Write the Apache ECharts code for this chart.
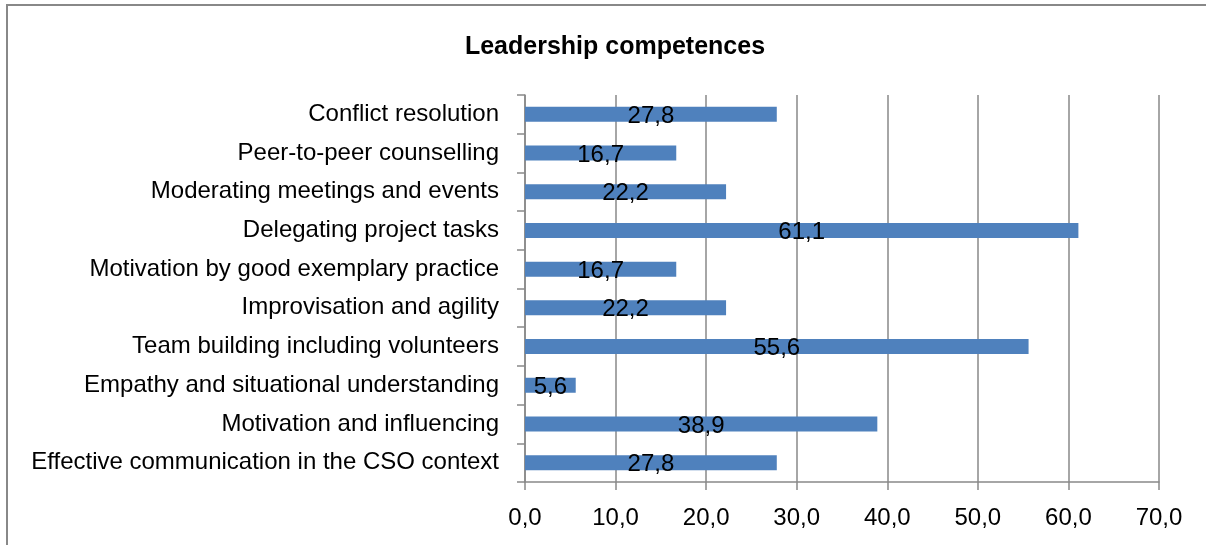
<!DOCTYPE html>
<html>
<head>
<meta charset="utf-8">
<script src="https://cdn.jsdelivr.net/npm/echarts@6/dist/echarts.min.js"></script>
<style>
  html, body { margin: 0; padding: 0; background: #fff; }
  #main { width: 1206px; height: 545px; }
</style>
</head>
<body>
<div id="main"></div>
<script>
let categories = [
    'Conflict resolution',
    'Peer-to-peer counselling',
    'Moderating meetings and events',
    'Delegating project tasks',
    'Motivation by good exemplary practice',
    'Improvisation and agility',
    'Team building including volunteers',
    'Empathy and situational understanding',
    'Motivation and influencing',
    'Effective communication in the CSO context'
];
let values = [27.8, 16.7, 22.2, 61.1, 16.7, 22.2, 55.6, 5.6, 38.9, 27.8];

let fontName = 'Liberation Sans';
let gray = '#898989';

function comma(v) {
    return Number(v).toFixed(1).replace('.', ',');
}

let myChart = echarts.init(document.getElementById('main'));

let options = {
    animation: false,
    title: {
        text: 'Leadership competences',
        left: 610,
        top: 30,
        textAlign: 'center',
        textStyle: {
            fontFamily: fontName,
            fontWeight: 'bold',
            fontSize: 25,
            color: '#000'
        }
    },
    graphic: [{
        type: 'rect',
        shape: { x: 7, y: 5, width: 1220, height: 600 },
        style: { fill: null, stroke: '#888', lineWidth: 2 },
        silent: true
    }],
    grid: {
        left: 525,
        right: 47,
        top: 95,
        bottom: 63
    },
    xAxis: {
        type: 'value',
        min: 0,
        max: 70,
        interval: 10,
        axisLine: { show: true, lineStyle: { color: gray, width: 1.5 } },
        axisTick: { show: true, length: 8, lineStyle: { color: gray, width: 1.5 } },
        splitLine: { show: true, lineStyle: { color: gray, width: 1.5 } },
        axisLabel: {
            formatter: comma,
            margin: 24,
            fontFamily: fontName,
            fontSize: 24,
            color: '#000'
        }
    },
    yAxis: {
        type: 'category',
        inverse: true,
        data: categories,
        axisLine: { show: true, lineStyle: { color: gray, width: 1.5 } },
        axisTick: { show: true, length: 8, lineStyle: { color: gray, width: 1.5 } },
        axisLabel: {
            margin: 26,
            fontFamily: fontName,
            fontSize: 24,
            color: '#000'
        }
    },
    series: [
        {
            type: 'bar',
            data: values,
            barWidth: 15,
            itemStyle: { color: '#4F81BD' },
            label: {
                show: true,
                position: 'inside',
                offset: [0, 2],
                formatter: function (p) { return comma(p.value); },
                fontFamily: fontName,
                fontSize: 24,
                color: '#000'
            }
        }
    ]
};
myChart.setOption(options);
</script>
</body>
</html>
